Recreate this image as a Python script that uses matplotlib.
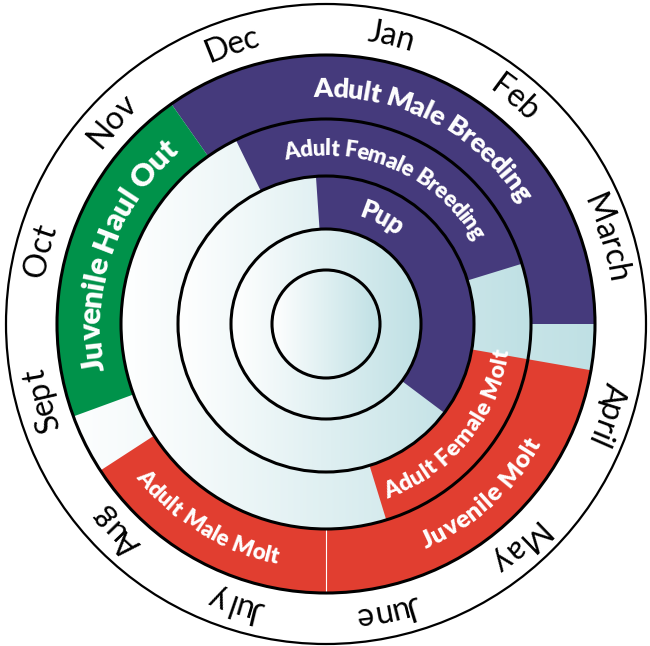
"""
Seal life-cycle calendar: concentric rings with months around the edge
"""

import numpy as np
import matplotlib.pyplot as plt
from matplotlib.patches import Wedge, Circle
from matplotlib.colors import LinearSegmentedColormap
from matplotlib.font_manager import FontProperties

# months around the outside, Jan at the top, running clockwise
months = ['Jan', 'Feb', 'March', 'April', 'May', 'June',
          'July', 'Aug', 'Sept', 'Oct', 'Nov', 'Dec']

# activity segments (start / end in months from Jan 1, ring 0 = outer)
seg_labels = ['Adult Male Breeding', 'Juvenile Haul Out', 'Juvenile Molt', 'Adult Male Molt',
              'Adult Female Breeding', 'Adult Female Molt', 'Pup']
seg_ring = [0, 0, 0, 0, 1, 1, 2]
seg_start = [10.83, 8.33, 3.33, 6.0, 11.13, 3.33, 11.87]
seg_end = [15.0, 10.83, 6.0, 7.9, 14.43, 5.43, 16.23]
seg_kind = ['breed', 'haul', 'molt', 'molt', 'breed', 'molt', 'breed']

colors = {'breed': '#453a7c', 'haul': '#00924a', 'molt': '#e13e30'}

# geometry (pixels)
W, H = 650, 646
cx, cy = 326, H - 324
r_month = 320
ring_r = [(205, 269), (148, 205), (95, 148)]
disk_r = [269, 205, 148, 95, 54]
# month label angles (degrees clockwise from top), as placed in the drawing
month_ang = [12.7, 39.8, 73, 108, 139, 168, 197.6, 225.5, 255, 284.3, 313.4, 341.3]
# where along the segment the label sits, and its size
label_pos = [0.5, 0.52, 0.47, 0.55, 0.5, 0.47, 0.24]
label_fs = [19.5, 22.5, 18, 16, 16, 16.5, 18.5]

FONT = ['Lato', 'DejaVu Sans']

fig = plt.figure(figsize=(W / 100, H / 100), dpi=100)
ax = fig.add_axes([0, 0, 1, 1])
ax.set_xlim(0, W)
ax.set_ylim(0, H)
ax.axis('off')
renderer = fig.canvas.get_renderer()

grad_cmap = LinearSegmentedColormap.from_list('g', ['#ffffff', '#bfe0e4'])
grad = np.linspace(0, 1, 256).reshape(1, -1)


def gradient_disk(R, z):
    im = ax.imshow(grad, cmap=grad_cmap, extent=[cx - R, cx + R, cy - R, cy + R],
                   aspect='auto', zorder=z, interpolation='bilinear')
    clip = Circle((cx, cy), R, transform=ax.transData)
    im.set_clip_path(clip)


def text_width(s, fp):
    if s == '':
        return 0.0
    w, _, _ = renderer.get_text_width_height_descent(s, fp, ismath=False)
    return w


def arc_text(s, theta_c, r, fs, weight, color, flip):
    fp = FontProperties(family=FONT, size=fs, weight=weight)
    total = text_width(s, fp)
    cap = 0.72 * fs * 100 / 72
    r_base = r + cap / 2 if flip else r - cap / 2
    for i, ch in enumerate(s):
        if ch == ' ':
            continue
        c = (text_width(s[:i], fp) + text_width(s[:i + 1], fp)) / 2
        off = np.degrees((c - total / 2) / r)
        if flip:
            th = theta_c - off
            rot = 180 - th
        else:
            th = theta_c + off
            rot = -th
        x = cx + r_base * np.sin(np.radians(th))
        y = cy + r_base * np.cos(np.radians(th))
        ax.text(x, y, ch, rotation=rot, rotation_mode='anchor', ha='center',
                va='baseline', fontproperties=fp, color=color, zorder=10)


# white month ring
ax.add_patch(Circle((cx, cy), r_month, facecolor='white', edgecolor='black', lw=1.6, zorder=0))

# stacked gradient disks with coloured segments on top
for k, R in enumerate(disk_r):
    gradient_disk(R, 1 + 2 * k)
    if k < 3:
        r_in, r_out = ring_r[k]
        for i in range(len(seg_labels)):
            if seg_ring[i] != k:
                continue
            t1 = 90 - seg_end[i] * 30
            t2 = 90 - seg_start[i] * 30
            ax.add_patch(Wedge((cx, cy), r_out, t1, t2, width=r_out - r_in,
                               facecolor=colors[seg_kind[i]], edgecolor='none', zorder=2 + 2 * k))

# thin white divider between touching segments of the same colour
for i in range(len(seg_labels)):
    for j in range(len(seg_labels)):
        if seg_ring[i] == seg_ring[j] and seg_kind[i] == seg_kind[j] and abs(seg_end[i] - seg_start[j]) < 1e-6:
            r_in, r_out = ring_r[seg_ring[i]]
            th = np.radians(seg_end[i] * 30)
            ax.plot([cx + r_in * np.sin(th), cx + r_out * np.sin(th)],
                    [cy + r_in * np.cos(th), cy + r_out * np.cos(th)],
                    color='white', lw=0.8, zorder=8.5)

# black ring outlines
for R in disk_r:
    ax.add_patch(Circle((cx, cy), R, facecolor='none', edgecolor='black', lw=2.2, zorder=9))

# segment labels
for i, s in enumerate(seg_labels):
    r_in, r_out = ring_r[seg_ring[i]]
    th = (seg_start[i] + label_pos[i] * (seg_end[i] - seg_start[i])) * 30 % 360
    flip = 95 < th < 265
    arc_text(s, th, (r_in + r_out) / 2, label_fs[i], 'heavy', 'white', flip)

# month labels
for i, m in enumerate(months):
    arc_text(m, month_ang[i], 297, 23, 'normal', 'black', False)

plt.savefig('out.png', dpi=100)
print("saved out.png")
